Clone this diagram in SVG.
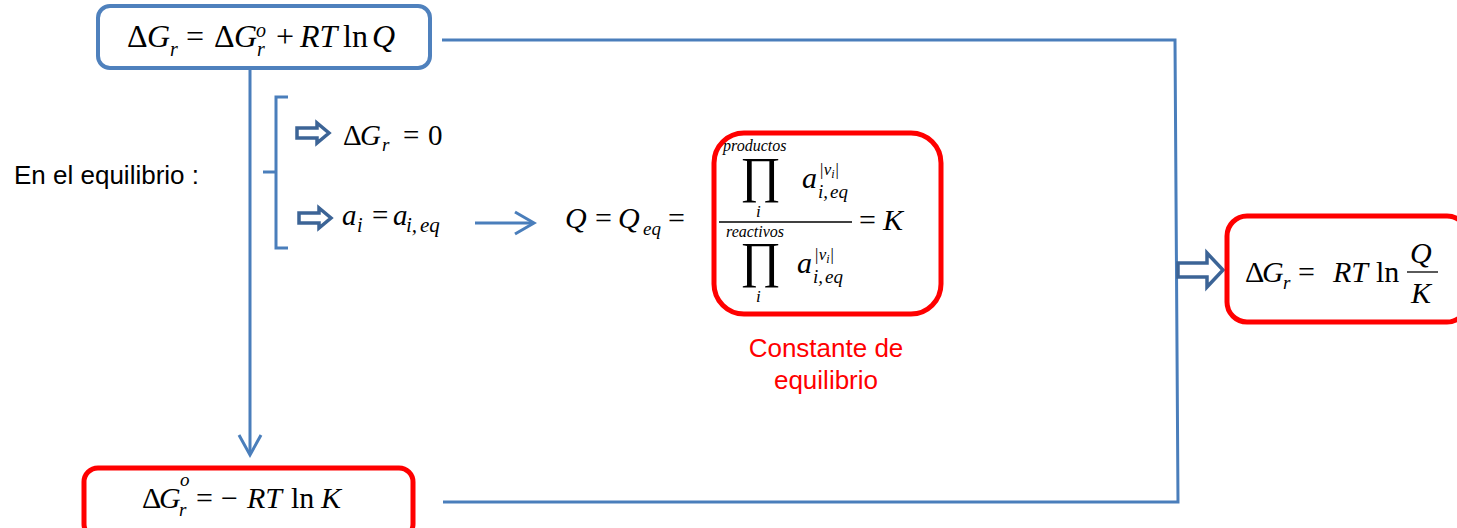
<svg xmlns="http://www.w3.org/2000/svg" width="1457" height="528" viewBox="0 0 1457 528">
<style>
.m{font-family:"Liberation Serif","DejaVu Serif",serif;fill:#000}
.i{font-style:italic}
.s{font-family:"Liberation Sans",Arial,sans-serif}
.bl{fill:none;stroke:#4A7EBB;stroke-width:3}
.rb{fill:#fff;stroke:#FF0000;stroke-width:5}
.bb{fill:#fff;stroke:#4F81BD;stroke-width:4}
.ba{fill:#fff;stroke:#3C6496;stroke-width:3.5;stroke-linejoin:miter}
</style>
<rect width="1457" height="528" fill="#fff"/>
<g id="connectors">
<polyline class="bl" points="442,40 1175,40 1178,502 443,502"/>
<line class="bl" x1="250" y1="68" x2="250" y2="453"/>
<polyline class="bl" points="239,435 250,455 261,435"/>
<polyline class="bl" points="288,97 276,97 276,248 288,248"/>
<line class="bl" x1="276" y1="172" x2="263" y2="172"/>
<line class="bl" x1="475" y1="223" x2="533" y2="223"/>
<polyline class="bl" points="515,212 534,223 515,234"/>
<polygon class="ba" points="297,128 317,128 317,123 329,133 317,143 317,138 297,138"/>
<polygon class="ba" points="299,213 319,213 319,208 331,218 319,228 319,223 299,223"/>
<polygon class="ba" points="1178,263 1207,263 1207,253 1223,270 1207,287 1207,277 1178,277"/>
</g>
<g id="node-top">
<rect class="bb" x="98" y="6" width="332" height="62" rx="12"/>
<text class="m" font-size="32" y="47"><tspan x="127">Δ</tspan><tspan class="i" x="147">G</tspan><tspan class="i" font-size="20" x="170" y="56">r</tspan><tspan x="186" y="47">=</tspan><tspan x="214">Δ</tspan><tspan class="i" x="234">G</tspan><tspan class="i" font-size="20" x="256" y="37">o</tspan><tspan class="i" font-size="20" x="257" y="56">r</tspan><tspan x="276" y="47">+</tspan><tspan class="i" x="300">RT</tspan><tspan x="343">ln</tspan><tspan class="i" x="372">Q</tspan></text>
</g>
<g id="label-equilibrio">
<text class="s" font-size="26" x="14" y="184">En el equilibrio :</text>
</g>
<g id="cond-1">
<text class="m" font-size="29" y="145"><tspan x="343">Δ</tspan><tspan class="i" x="360">G</tspan><tspan class="i" font-size="19" x="382" y="151">r</tspan><tspan x="403" y="145">=</tspan><tspan x="428">0</tspan></text>
</g>
<g id="cond-2">
<text class="m" font-size="29" y="225"><tspan class="i" x="342">a</tspan><tspan class="i" font-size="20" x="357" y="232">i</tspan><tspan x="372" y="225">=</tspan><tspan class="i" x="393">a</tspan><tspan class="i" font-size="21" x="406" y="232">i,</tspan><tspan class="i" font-size="21" x="420">eq</tspan></text>
</g>
<g id="eq-Q">
<text class="m" font-size="30" y="228"><tspan class="i" x="565">Q</tspan><tspan x="595">=</tspan><tspan class="i" x="618">Q</tspan><tspan class="i" font-size="19" x="643" y="235">eq</tspan><tspan x="668" y="228">=</tspan></text>
</g>
<g id="node-K">
<rect class="rb" x="714" y="133" width="227" height="181" rx="30"/>
<text class="m i" font-size="16" x="723" y="151">productos</text>
<text class="m" font-size="50" x="740" y="192">∏</text>
<text class="m i" font-size="30" x="802" y="188">a</text>
<text class="m i" font-size="17" x="819" y="175">|ν<tspan font-size="12" dy="3">i</tspan><tspan dy="-3">|</tspan></text>
<text class="m i" font-size="19" x="818" y="198">i,<tspan x="830">eq</tspan></text>
<text class="m i" font-size="17" x="756" y="217">i</text>
<line x1="719" y1="222" x2="852" y2="222" stroke="#000" stroke-width="1.3"/>
<text class="m" font-size="30" y="230"><tspan x="859">=</tspan><tspan class="i" x="883">K</tspan></text>
<text class="m i" font-size="16" x="726" y="237">reactivos</text>
<text class="m" font-size="50" x="740" y="277">∏</text>
<text class="m i" font-size="30" x="797" y="273">a</text>
<text class="m i" font-size="17" x="814" y="260">|ν<tspan font-size="12" dy="3">i</tspan><tspan dy="-3">|</tspan></text>
<text class="m i" font-size="19" x="813" y="283">i,<tspan x="825">eq</tspan></text>
<text class="m i" font-size="17" x="756" y="302">i</text>
</g>
<g id="label-constante">
<text class="s" font-size="26" fill="#FF0000" text-anchor="middle" x="826" y="357">Constante de</text>
<text class="s" font-size="26" fill="#FF0000" text-anchor="middle" x="826" y="389">equilibrio</text>
</g>
<g id="node-right">
<rect class="rb" x="1227" y="216" width="240" height="106" rx="20"/>
<text class="m" font-size="30" y="282"><tspan x="1245">Δ</tspan><tspan class="i" x="1262">G</tspan><tspan class="i" font-size="19" x="1283" y="289">r</tspan><tspan x="1298" y="282">=</tspan><tspan class="i" x="1333">RT</tspan><tspan x="1376">ln</tspan></text>
<text class="m i" font-size="30" x="1410" y="263">Q</text>
<line x1="1407" y1="272" x2="1438" y2="272" stroke="#000" stroke-width="1.3"/>
<text class="m i" font-size="30" x="1411" y="303">K</text>
</g>
<g id="node-bottom">
<rect class="rb" x="84" y="468" width="329" height="70" rx="14"/>
<text class="m" font-size="30" y="508"><tspan x="142">Δ</tspan><tspan class="i" x="159">G</tspan><tspan class="i" font-size="19" x="180" y="486">o</tspan><tspan class="i" font-size="19" x="179" y="516">r</tspan><tspan x="196" y="508">=</tspan><tspan x="221">−</tspan><tspan class="i" x="247">RT</tspan><tspan x="291">ln</tspan><tspan class="i" x="321">K</tspan></text>
</g>
</svg>
